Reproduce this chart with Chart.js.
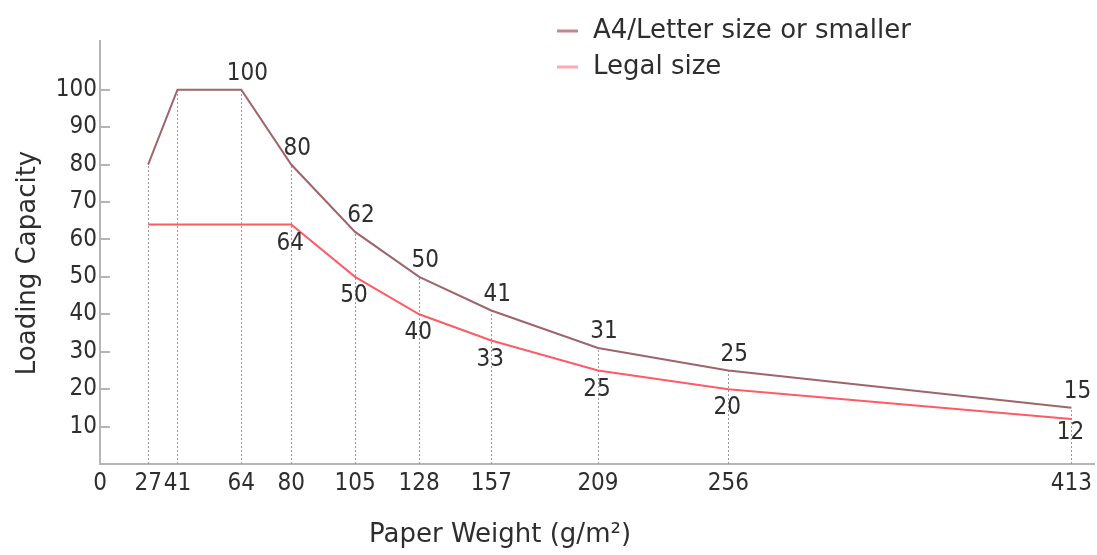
<!DOCTYPE html>
<html>
<head>
<meta charset="utf-8">
<title>Paper weight vs loading capacity</title>
<script src="https://cdn.jsdelivr.net/npm/chart.js@4/dist/chart.umd.min.js"></script>
<style>
  html, body { margin: 0; padding: 0; background: #fff; }
  #wrap { width: 1097px; height: 555px; }
</style>
</head>
<body>
<div id="wrap"><canvas id="chart" width="1097" height="555"></canvas></div>
<script>
// ─── Data ─────────────────────────────────────────────────────────────────────
const weights       = [27, 41, 64, 80, 105, 128, 157, 209, 256, 413];
const a4Capacity    = [80, 100, 100, 80, 62, 50, 41, 31, 25, 15];
const legalCapacity = [64, 64, 64, 64, 50, 40, 33, 25, 20, 12];
const xTicks        = [0, 27, 41, 64, 80, 105, 128, 157, 209, 256, 413];
const yTicks        = [10, 20, 30, 40, 50, 60, 70, 80, 90, 100];
const seriesNames   = ['A4/Letter size or smaller', 'Legal size'];
// value labels start at these indices (earlier points are unlabelled)
const a4LabelFrom    = 2;
const legalLabelFrom = 3;

// ─── Styles ───────────────────────────────────────────────────────────────────
const TEXT      = '#2e2e2e';
const AXIS      = '#b5b5b5';
const A4_COLOR  = '#a0646b';
const LGL_COLOR = '#ff5b66';
const NUM_FONT  = '24px "DejaVu Sans Condensed", "DejaVu Sans", sans-serif';
const TXT_FONT  = '26px "DejaVu Sans", sans-serif';

// ─── Piecewise x scale: tick values sit at hand-spaced positions ──────────────
class PiecewiseScale extends Chart.LinearScale {
  buildTicks() {
    this.start = this.min;
    this.end = this.max;
    return this.options.stops.map(s => ({ value: s[0] }));
  }
  _stopList() {
    return [...this.options.stops, [this.max, 1]];
  }
  getPixelForValue(value) {
    if (value === null || value === undefined || isNaN(value)) return NaN;
    const st = this._stopList();
    for (let i = 1; i < st.length; i++) {
      if (value <= st[i][0] || i === st.length - 1) {
        const [v0, d0] = st[i - 1], [v1, d1] = st[i];
        return this.getPixelForDecimal(d0 + (value - v0) / (v1 - v0) * (d1 - d0));
      }
    }
  }
  getValueForPixel(pixel) {
    const dec = this.getDecimalForPixel(pixel);
    const st = this._stopList();
    for (let i = 1; i < st.length; i++) {
      if (dec <= st[i][1] || i === st.length - 1) {
        const [v0, d0] = st[i - 1], [v1, d1] = st[i];
        return v0 + (dec - d0) / (d1 - d0) * (v1 - v0);
      }
    }
  }
}
PiecewiseScale.id = 'piecewise';
PiecewiseScale.defaults = {};
Chart.register(PiecewiseScale);

// relative position of each x tick along the axis
const xSpacing = [0, .0484, .0779, .1421, .1923, .2565, .321, .3935, .5008, .6319, .9769];

// ─── Extras: guide lines, inner y ticks, value labels, legend, titles ─────────
const extras = {
  id: 'extras',
  beforeDatasetsDraw(chart) {
    const { ctx, scales: { x, y } } = chart;
    ctx.save();
    ctx.strokeStyle = '#9a9a9a';
    ctx.lineWidth = 1;
    ctx.setLineDash([2, 2]);
    weights.forEach((w, i) => {
      const px = Math.round(x.getPixelForValue(w)) + 0.5;
      ctx.beginPath();
      ctx.moveTo(px, y.getPixelForValue(0));
      ctx.lineTo(px, y.getPixelForValue(a4Capacity[i]));
      ctx.stroke();
    });
    ctx.restore();
  },
  afterDraw(chart) {
    const { ctx, scales: { x, y } } = chart;
    ctx.save();

    // short ticks on the inside of the y axis
    ctx.strokeStyle = AXIS;
    ctx.lineWidth = 2;
    yTicks.forEach(v => {
      const py = Math.round(y.getPixelForValue(v));
      ctx.beginPath();
      ctx.moveTo(x.left, py);
      ctx.lineTo(x.left + 10, py);
      ctx.stroke();
    });

    // point values
    ctx.fillStyle = TEXT;
    ctx.font = NUM_FONT;
    ctx.textAlign = 'center';
    ctx.textBaseline = 'middle';
    weights.forEach((w, i) => {
      const px = x.getPixelForValue(w);
      if (i >= a4LabelFrom) {
        ctx.fillText(String(a4Capacity[i]), px + 6, y.getPixelForValue(a4Capacity[i]) - 16);
      }
      if (i >= legalLabelFrom) {
        const dy = i === weights.length - 1 ? 14 : 19;
        ctx.fillText(String(legalCapacity[i]), px - 1, y.getPixelForValue(legalCapacity[i]) + dy);
      }
    });

    // legend
    const legendColors = ['#c7878d', '#ffaab0'];
    ctx.font = TXT_FONT;
    ctx.textAlign = 'left';
    seriesNames.forEach((name, i) => {
      const ly = 31 + i * 36;
      ctx.strokeStyle = legendColors[i];
      ctx.lineWidth = 3;
      ctx.beginPath();
      ctx.moveTo(557, ly);
      ctx.lineTo(578, ly);
      ctx.stroke();
      ctx.fillStyle = TEXT;
      ctx.fillText(name, 593, ly);
    });

    // axis titles
    ctx.textAlign = 'center';
    ctx.fillText('Paper Weight (g/m²)', 500, 535);
    ctx.translate(28, 263);
    ctx.rotate(-Math.PI / 2);
    ctx.fillText('Loading Capacity', 0, 0);
    ctx.restore();
  }
};

// ─── Chart ────────────────────────────────────────────────────────────────────
new Chart(document.getElementById('chart'), {
  type: 'line',
  data: {
    datasets: [
      {
        label: seriesNames[0],
        data: weights.map((w, i) => ({ x: w, y: a4Capacity[i] })),
        borderColor: A4_COLOR,
        borderWidth: 2,
        pointRadius: 0,
        tension: 0,
      },
      {
        label: seriesNames[1],
        data: weights.map((w, i) => ({ x: w, y: legalCapacity[i] })),
        borderColor: LGL_COLOR,
        borderWidth: 2,
        pointRadius: 0,
        tension: 0,
      },
    ]
  },
  options: {
    responsive: false,
    animation: false,
    layout: { padding: { top: 41, right: 0, left: 0, bottom: 0 } },
    plugins: { legend: { display: false }, tooltip: { enabled: false } },
    scales: {
      x: {
        type: 'piecewise',
        min: 0, max: 424,
        stops: xTicks.map((v, i) => [v, xSpacing[i]]),
        grid: { display: false, drawTicks: false },
        border: { color: AXIS, width: 2 },
        ticks: {
          autoSkip: false, maxRotation: 0, padding: 5,
          color: TEXT, font: { family: '"DejaVu Sans Condensed", "DejaVu Sans", sans-serif', size: 24 },
          callback: v => String(v),
        },
        afterFit: s => { s.height = 91; },
      },
      y: {
        type: 'linear',
        min: 0, max: 113,
        afterBuildTicks: s => { s.ticks = yTicks.map(v => ({ value: v })); },
        grid: { display: false, drawTicks: false },
        border: { color: AXIS, width: 2 },
        ticks: {
          padding: 3,
          color: TEXT, font: { family: '"DejaVu Sans Condensed", "DejaVu Sans", sans-serif', size: 24 },
          callback: v => String(v),
        },
        afterFit: s => { s.width = 100; },
      }
    }
  },
  plugins: [extras]
});
</script>
</body>
</html>
